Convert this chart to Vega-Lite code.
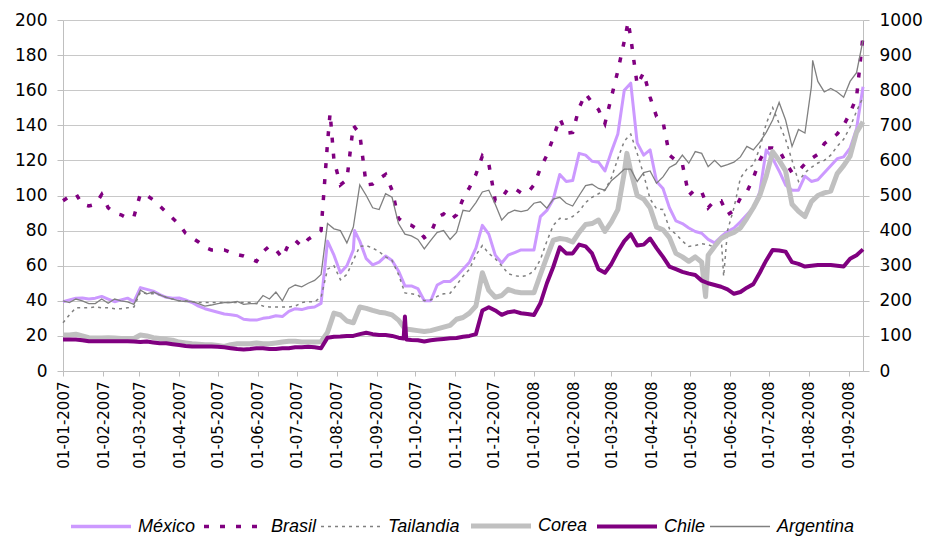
{
"$schema": "https://vega.github.io/schema/vega-lite/v6.json",
"width": 800, "height": 351,
"autosize": {"type": "none"},
"padding": {"left": 63, "top": 20, "right": 64, "bottom": 167},
"background": "white",
"config": {"view": {"stroke": null}, "font": "DejaVu Sans"},
"data": {"values": [
{"d":"2007-01-01","México":39.5,"Brasil":97,"Tailandia":27.5,"Corea":20.5,"Chile":18,"Argentina":200},
{"d":"2007-01-06","México":40.5,"Brasil":99.5,"Tailandia":32,"Corea":20.5,"Chile":18,"Argentina":195},
{"d":"2007-01-11","México":41.5,"Brasil":101,"Tailandia":36,"Corea":21,"Chile":18,"Argentina":205},
{"d":"2007-01-16","México":41.6,"Brasil":95,"Tailandia":36,"Corea":20,"Chile":17.5,"Argentina":200},
{"d":"2007-01-21","México":41,"Brasil":94,"Tailandia":36,"Corea":19,"Chile":17,"Argentina":192},
{"d":"2007-01-26","México":41.5,"Brasil":95,"Tailandia":36.5,"Corea":18.8,"Chile":17,"Argentina":192},
{"d":"2007-01-31","México":42.5,"Brasil":100.5,"Tailandia":36,"Corea":18.8,"Chile":17,"Argentina":205},
{"d":"2007-02-05","México":41,"Brasil":93,"Tailandia":36,"Corea":19,"Chile":17,"Argentina":193},
{"d":"2007-02-10","México":39.5,"Brasil":90,"Tailandia":35.5,"Corea":18.8,"Chile":17,"Argentina":205},
{"d":"2007-02-15","México":40.5,"Brasil":89,"Tailandia":35.5,"Corea":18.5,"Chile":17,"Argentina":200},
{"d":"2007-02-20","México":41.5,"Brasil":87,"Tailandia":36,"Corea":18.5,"Chile":17,"Argentina":197},
{"d":"2007-02-25","México":39.5,"Brasil":88,"Tailandia":36.5,"Corea":18.5,"Chile":16.8,"Argentina":190},
{"d":"2007-03-02","México":47.5,"Brasil":101,"Tailandia":45,"Corea":20.5,"Chile":16.5,"Argentina":230},
{"d":"2007-03-07","México":46.5,"Brasil":100,"Tailandia":44,"Corea":20,"Chile":16.8,"Argentina":220},
{"d":"2007-03-12","México":45.5,"Brasil":97.5,"Tailandia":44,"Corea":19,"Chile":16.3,"Argentina":225},
{"d":"2007-03-17","México":43.5,"Brasil":94,"Tailandia":43.5,"Corea":18.5,"Chile":15.8,"Argentina":217},
{"d":"2007-03-22","México":42,"Brasil":90.5,"Tailandia":42,"Corea":18,"Chile":15.8,"Argentina":210},
{"d":"2007-03-27","México":41.5,"Brasil":87,"Tailandia":41,"Corea":17.5,"Chile":15.3,"Argentina":205},
{"d":"2007-04-01","México":41.6,"Brasil":83.5,"Tailandia":40,"Corea":16.5,"Chile":14.8,"Argentina":200},
{"d":"2007-04-06","México":40.5,"Brasil":78.5,"Tailandia":40,"Corea":16,"Chile":14.3,"Argentina":198},
{"d":"2007-04-11","México":39,"Brasil":76,"Tailandia":39.5,"Corea":15.5,"Chile":14,"Argentina":198},
{"d":"2007-04-16","México":37,"Brasil":73.5,"Tailandia":39,"Corea":15.3,"Chile":14,"Argentina":192},
{"d":"2007-04-21","México":35.5,"Brasil":70.5,"Tailandia":39,"Corea":15,"Chile":14,"Argentina":185},
{"d":"2007-04-26","México":34.5,"Brasil":69,"Tailandia":39,"Corea":15,"Chile":14,"Argentina":188},
{"d":"2007-05-01","México":33.5,"Brasil":69,"Tailandia":39,"Corea":14.5,"Chile":13.8,"Argentina":192},
{"d":"2007-05-06","México":32.5,"Brasil":69,"Tailandia":39,"Corea":14,"Chile":13.5,"Argentina":195},
{"d":"2007-05-11","México":32,"Brasil":67.5,"Tailandia":39,"Corea":15,"Chile":13,"Argentina":195},
{"d":"2007-05-16","México":31.5,"Brasil":66.3,"Tailandia":39,"Corea":15.5,"Chile":12.5,"Argentina":198},
{"d":"2007-05-21","México":29.5,"Brasil":65.5,"Tailandia":39,"Corea":15.5,"Chile":12.3,"Argentina":190},
{"d":"2007-05-26","México":29,"Brasil":64,"Tailandia":39,"Corea":15.5,"Chile":12.5,"Argentina":192},
{"d":"2007-05-31","México":29,"Brasil":62.5,"Tailandia":38.5,"Corea":16,"Chile":13,"Argentina":192},
{"d":"2007-06-05","México":30,"Brasil":68,"Tailandia":37,"Corea":15.5,"Chile":13,"Argentina":215},
{"d":"2007-06-10","México":30.5,"Brasil":71.2,"Tailandia":36.5,"Corea":15.5,"Chile":12.5,"Argentina":205},
{"d":"2007-06-15","México":31.5,"Brasil":69,"Tailandia":36.5,"Corea":16,"Chile":12.5,"Argentina":225},
{"d":"2007-06-20","México":31,"Brasil":64.5,"Tailandia":36.5,"Corea":16.5,"Chile":13,"Argentina":200},
{"d":"2007-06-25","México":34,"Brasil":72.5,"Tailandia":36.5,"Corea":17,"Chile":13,"Argentina":235},
{"d":"2007-06-30","México":35.5,"Brasil":74.5,"Tailandia":37,"Corea":17,"Chile":13.5,"Argentina":245},
{"d":"2007-07-05","México":35,"Brasil":71,"Tailandia":39,"Corea":16.5,"Chile":13.5,"Argentina":240},
{"d":"2007-07-10","México":36,"Brasil":75,"Tailandia":39.5,"Corea":16.5,"Chile":13.8,"Argentina":250},
{"d":"2007-07-15","México":36.5,"Brasil":77.5,"Tailandia":39.5,"Corea":16.5,"Chile":13.5,"Argentina":258},
{"d":"2007-07-20","México":38.5,"Brasil":80,"Tailandia":42,"Corea":16.7,"Chile":13,"Argentina":275},
{"d":"2007-07-25","México":74,"Brasil":130,"Tailandia":58,"Corea":22,"Chile":19,"Argentina":420},
{"d":"2007-07-27","Brasil":147},
{"d":"2007-07-30","México":66,"Brasil":120,"Tailandia":60,"Corea":33,"Chile":19.5,"Argentina":405},
{"d":"2007-08-04","México":56,"Brasil":106,"Tailandia":52,"Corea":31.9,"Chile":19.6,"Argentina":400},
{"d":"2007-08-09","México":60,"Brasil":109,"Tailandia":55,"Corea":28.5,"Chile":20,"Argentina":365},
{"d":"2007-08-14","México":69,"Brasil":140,"Tailandia":63,"Corea":27.5,"Chile":20,"Argentina":410},
{"d":"2007-08-15","México":80},
{"d":"2007-08-19","México":74,"Brasil":135,"Tailandia":71,"Corea":36.5,"Chile":21,"Argentina":530},
{"d":"2007-08-24","México":64,"Brasil":106,"Tailandia":71.5,"Corea":35.7,"Chile":21.8,"Argentina":500},
{"d":"2007-08-29","México":60.5,"Brasil":106.5,"Tailandia":70,"Corea":34.5,"Chile":21,"Argentina":465},
{"d":"2007-09-03","México":62,"Brasil":109.5,"Tailandia":68,"Corea":33.5,"Chile":20.5,"Argentina":460},
{"d":"2007-09-08","México":65.5,"Brasil":112,"Tailandia":65,"Corea":33,"Chile":20.5,"Argentina":505},
{"d":"2007-09-13","México":63,"Brasil":103,"Tailandia":63,"Corea":32,"Chile":20,"Argentina":495},
{"d":"2007-09-18","México":57,"Brasil":87,"Tailandia":55,"Corea":29,"Chile":19,"Argentina":420},
{"d":"2007-09-22","Chile":18.5},
{"d":"2007-09-23","México":48.5,"Brasil":84,"Tailandia":44.5,"Corea":24,"Chile":31,"Argentina":390},
{"d":"2007-09-24","Chile":18},
{"d":"2007-09-28","México":48.5,"Brasil":83,"Tailandia":44,"Corea":23.5,"Chile":17.7,"Argentina":385},
{"d":"2007-10-03","México":47,"Brasil":80.5,"Tailandia":43.3,"Corea":23,"Chile":17.5,"Argentina":375},
{"d":"2007-10-08","México":40,"Brasil":76,"Tailandia":40,"Corea":22.5,"Chile":16.8,"Argentina":348},
{"d":"2007-10-13","México":40,"Brasil":78.5,"Tailandia":40.5,"Corea":23,"Chile":17.5,"Argentina":372},
{"d":"2007-10-18","México":49,"Brasil":87.5,"Tailandia":42.5,"Corea":24,"Chile":18,"Argentina":395},
{"d":"2007-10-23","México":51,"Brasil":89.5,"Tailandia":44,"Corea":25,"Chile":18.3,"Argentina":400},
{"d":"2007-10-28","México":51,"Brasil":86,"Tailandia":44.3,"Corea":26,"Chile":18.6,"Argentina":375},
{"d":"2007-11-02","México":54,"Brasil":89,"Tailandia":49,"Corea":29.5,"Chile":18.8,"Argentina":395},
{"d":"2007-11-07","México":58,"Brasil":98,"Tailandia":54,"Corea":30.5,"Chile":19.5,"Argentina":458},
{"d":"2007-11-12","México":62,"Brasil":104.5,"Tailandia":58,"Corea":33,"Chile":20,"Argentina":455},
{"d":"2007-11-17","México":70,"Brasil":112,"Tailandia":66,"Corea":37,"Chile":21,"Argentina":480},
{"d":"2007-11-22","México":83,"Brasil":122.5,"Tailandia":71.5,"Corea":56,"Chile":34.5,"Argentina":510},
{"d":"2007-11-27","México":78,"Brasil":118,"Tailandia":67,"Corea":46,"Chile":36.3,"Argentina":515},
{"d":"2007-12-02","México":66,"Brasil":97,"Tailandia":64,"Corea":42,"Chile":34.5,"Argentina":475},
{"d":"2007-12-07","México":61.5,"Brasil":98.5,"Tailandia":60,"Corea":43,"Chile":32,"Argentina":430},
{"d":"2007-12-12","México":66,"Brasil":104,"Tailandia":55.5,"Corea":46.5,"Chile":33.5,"Argentina":450},
{"d":"2007-12-17","México":67.5,"Brasil":104,"Tailandia":54.3,"Corea":45.2,"Chile":34,"Argentina":458},
{"d":"2007-12-22","México":69,"Brasil":101.5,"Tailandia":53.8,"Corea":44.6,"Chile":32.9,"Argentina":454},
{"d":"2007-12-27","México":69,"Brasil":101.5,"Tailandia":54.5,"Corea":44.6,"Chile":32.5,"Argentina":458},
{"d":"2008-01-01","México":69,"Brasil":106,"Tailandia":57,"Corea":44.6,"Chile":31.9,"Argentina":478},
{"d":"2008-01-06","México":88,"Brasil":115.5,"Tailandia":63.5,"Corea":55,"Chile":38.6,"Argentina":482},
{"d":"2008-01-11","México":91.5,"Brasil":123,"Tailandia":74,"Corea":65,"Chile":50,"Argentina":464},
{"d":"2008-01-16","México":98,"Brasil":133,"Tailandia":83,"Corea":74.5,"Chile":59.4,"Argentina":490},
{"d":"2008-01-21","México":112,"Brasil":144,"Tailandia":87,"Corea":75.5,"Chile":70.5,"Argentina":495},
{"d":"2008-01-26","México":108,"Brasil":135.5,"Tailandia":86.5,"Corea":75,"Chile":67,"Argentina":478},
{"d":"2008-01-31","México":108.5,"Brasil":136,"Tailandia":88,"Corea":73.5,"Chile":67,"Argentina":470},
{"d":"2008-02-05","México":124,"Brasil":150,"Tailandia":91,"Corea":79,"Chile":72,"Argentina":500},
{"d":"2008-02-10","México":123,"Brasil":158,"Tailandia":96,"Corea":83.5,"Chile":71,"Argentina":528},
{"d":"2008-02-15","México":119.5,"Brasil":153,"Tailandia":99,"Corea":84,"Chile":67,"Argentina":532},
{"d":"2008-02-20","México":119,"Brasil":149,"Tailandia":101,"Corea":86,"Chile":58,"Argentina":520},
{"d":"2008-02-25","México":114,"Brasil":141,"Tailandia":103,"Corea":79.5,"Chile":56,"Argentina":515},
{"d":"2008-03-01","México":125,"Brasil":156,"Tailandia":110,"Corea":85,"Chile":61,"Argentina":542},
{"d":"2008-03-06","México":135,"Brasil":171,"Tailandia":121,"Corea":92,"Chile":68,"Argentina":558},
{"d":"2008-03-11","México":160,"Brasil":188,"Tailandia":131,"Corea":113,"Chile":74,"Argentina":575},
{"d":"2008-03-13","Corea":124},
{"d":"2008-03-14","Brasil":199},
{"d":"2008-03-16","México":164,"Brasil":190,"Tailandia":135,"Corea":114,"Chile":78,"Argentina":575},
{"d":"2008-03-21","México":130,"Brasil":163,"Tailandia":124,"Corea":100,"Chile":71.5,"Argentina":540},
{"d":"2008-03-26","México":123,"Brasil":170,"Tailandia":112,"Corea":98,"Chile":72,"Argentina":565},
{"d":"2008-03-31","México":126,"Brasil":156,"Tailandia":98,"Corea":93,"Chile":75.5,"Argentina":570},
{"d":"2008-04-05","México":108,"Brasil":145,"Tailandia":92.5,"Corea":82,"Chile":70,"Argentina":535},
{"d":"2008-04-10","México":104,"Brasil":142,"Tailandia":92,"Corea":80.5,"Chile":65,"Argentina":553},
{"d":"2008-04-15","México":93,"Brasil":123,"Tailandia":81,"Corea":76,"Chile":59.5,"Argentina":580},
{"d":"2008-04-20","México":85.5,"Brasil":120,"Tailandia":78,"Corea":67,"Chile":58,"Argentina":590},
{"d":"2008-04-25","México":84,"Brasil":118,"Tailandia":74,"Corea":65,"Chile":56.5,"Argentina":615},
{"d":"2008-04-30","México":81.5,"Brasil":100,"Tailandia":71,"Corea":62.5,"Chile":55.5,"Argentina":592},
{"d":"2008-05-05","México":79.5,"Brasil":103.5,"Tailandia":71.5,"Corea":65,"Chile":54.7,"Argentina":625},
{"d":"2008-05-10","México":78.5,"Brasil":102,"Tailandia":72.5,"Corea":62,"Chile":51.5,"Argentina":620},
{"d":"2008-05-13","Corea":42.4},
{"d":"2008-05-15","México":75,"Brasil":93,"Tailandia":72,"Corea":66,"Chile":50,"Argentina":582},
{"d":"2008-05-20","México":73,"Brasil":97,"Tailandia":70.5,"Corea":71,"Chile":49,"Argentina":600},
{"d":"2008-05-25","México":76.5,"Brasil":97,"Tailandia":77,"Corea":75.5,"Chile":48,"Argentina":582},
{"d":"2008-05-27","Tailandia":54},
{"d":"2008-05-30","México":79.5,"Brasil":89,"Tailandia":80,"Corea":77.5,"Chile":46.5,"Argentina":588},
{"d":"2008-06-04","México":81.5,"Brasil":91.5,"Tailandia":93,"Corea":79,"Chile":44,"Argentina":595},
{"d":"2008-06-09","México":85,"Brasil":98.5,"Tailandia":110,"Corea":81.5,"Chile":45,"Argentina":610},
{"d":"2008-06-14","México":89,"Brasil":102,"Tailandia":115,"Corea":87,"Chile":47.5,"Argentina":640},
{"d":"2008-06-19","México":93,"Brasil":110,"Tailandia":117.5,"Corea":93,"Chile":49.5,"Argentina":630},
{"d":"2008-06-24","México":102,"Brasil":120,"Tailandia":127,"Corea":100,"Chile":56,"Argentina":652},
{"d":"2008-06-29","México":126,"Brasil":127,"Tailandia":141,"Corea":111,"Chile":63,"Argentina":680},
{"d":"2008-07-04","México":121,"Brasil":127,"Tailandia":150,"Corea":125,"Chile":69,"Argentina":715},
{"d":"2008-07-09","México":114,"Brasil":126,"Tailandia":141,"Corea":120,"Chile":68.7,"Argentina":765},
{"d":"2008-07-14","México":106,"Brasil":119,"Tailandia":132,"Corea":114,"Chile":68,"Argentina":715},
{"d":"2008-07-19","México":103,"Brasil":113,"Tailandia":120,"Corea":95,"Chile":62,"Argentina":640},
{"d":"2008-07-24","México":103,"Brasil":114,"Tailandia":108,"Corea":91,"Chile":61,"Argentina":688},
{"d":"2008-07-29","México":111,"Brasil":118,"Tailandia":113,"Corea":88,"Chile":59.5,"Argentina":678},
{"d":"2008-08-03","México":108,"Brasil":121,"Tailandia":116,"Corea":96.5,"Chile":60,"Argentina":810},
{"d":"2008-08-04","Argentina":885},
{"d":"2008-08-08","México":109,"Brasil":123.5,"Tailandia":118.5,"Corea":100,"Chile":60.4,"Argentina":825},
{"d":"2008-08-13","México":113,"Brasil":129.5,"Tailandia":120,"Corea":101.5,"Chile":60.4,"Argentina":795},
{"d":"2008-08-18","México":117,"Brasil":132.5,"Tailandia":123,"Corea":102.5,"Chile":60.4,"Argentina":805},
{"d":"2008-08-23","México":121,"Brasil":135,"Tailandia":128,"Corea":112.5,"Chile":60,"Argentina":795},
{"d":"2008-08-28","México":122,"Brasil":140,"Tailandia":132,"Corea":117,"Chile":59.5,"Argentina":780},
{"d":"2008-09-02","México":127,"Brasil":147,"Tailandia":139,"Corea":122.5,"Chile":64,"Argentina":825},
{"d":"2008-09-07","México":138,"Brasil":156,"Tailandia":148,"Corea":136,"Chile":66,"Argentina":850},
{"d":"2008-09-12","México":162,"Brasil":191,"Tailandia":156,"Corea":142,"Chile":69.3,"Argentina":943}
]},
"transform": [
  {"fold": ["México","Brasil","Tailandia","Corea","Chile","Argentina"], "as": ["s","v"]},
  {"filter": "isValid(datum.v)"}
],
"encoding": {
  "x": {"field": "d", "type": "temporal",
        "scale": {"type": "utc", "domain": [{"year":2007,"month":1,"date":1,"utc":true},{"year":2008,"month":9,"date":12,"utc":true}]},
        "axis": {"format": "%d-%m-%Y", "tickCount": {"interval": "month", "step": 1}, "labelAngle": -90,
                 "labelFont": "DejaVu Sans", "labelFontSize": 15, "labelColor": "black", "labelPadding": 5,
                 "tickSize": 5, "tickColor": "#BFBFBF", "domainColor": "#BFBFBF", "grid": false, "title": null,
                 "labelOverlap": false, "labelFlush": false, "labelBound": false}},
  "color": {"field": "s", "type": "nominal",
            "scale": {"domain": ["México","Brasil","Tailandia","Corea","Chile","Argentina"],
                      "range": ["#CC99FF","#800080","#808080","#C0C0C0","#800080","#808080"]},
            "legend": {"orient": "none", "legendX": 29, "legendY": 497, "direction": "horizontal", "columns": 6,
                       "title": null, "symbolType": "stroke", "symbolSize": 3600, "labelFont": "Liberation Sans",
                       "labelFontStyle": "italic", "labelFontSize": 18, "labelColor": "black", "labelOffset": 28,
                       "columnPadding": 1, "padding": 0, "labelLimit": 0, "symbolStrokeWidth": 3,
                       "encode": {"symbols": {"update": {
                         "strokeWidth": {"signal": "datum.value === 'Corea' ? 5 : datum.value === 'Chile' ? 4 : (datum.value === 'México' || datum.value === 'Brasil') ? 3.5 : 1.3"},
                         "strokeDash": {"signal": "datum.value === 'Brasil' ? [5, 11] : datum.value === 'Tailandia' ? [3, 4] : [1, 0]"}
                       }}}}}
},
"layer": [
  {"layer": [
     {"transform": [{"filter": "datum.s === 'México'"}], "mark": {"type": "line", "strokeWidth": 3, "strokeJoin": "round"}},
     {"transform": [{"filter": "datum.s === 'Brasil'"}], "mark": {"type": "line", "strokeWidth": 3.5, "strokeDash": [5, 11]}},
     {"transform": [{"filter": "datum.s === 'Tailandia'"}], "mark": {"type": "line", "strokeWidth": 1.5, "strokeDash": [3, 4]}},
     {"transform": [{"filter": "datum.s === 'Corea'"}], "mark": {"type": "line", "strokeWidth": 5, "strokeJoin": "round"}},
     {"transform": [{"filter": "datum.s === 'Chile'"}], "mark": {"type": "line", "strokeWidth": 4, "strokeJoin": "round"}}
   ],
   "encoding": {"y": {"field": "v", "type": "quantitative", "scale": {"domain": [0, 200], "nice": false},
     "axis": {"orient": "left", "values": [0,20,40,60,80,100,120,140,160,180,200], "format": "d",
              "labelFont": "DejaVu Sans", "labelFontSize": 17, "labelColor": "black", "labelPadding": 10,
              "tickSize": 6, "tickColor": "#BFBFBF", "domainColor": "#BFBFBF", "grid": true, "gridColor": "#C8C8C8",
              "title": null}}}
  },
  {"transform": [{"filter": "datum.s === 'Argentina'"}],
   "mark": {"type": "line", "strokeWidth": 1.3},
   "encoding": {"y": {"field": "v", "type": "quantitative", "scale": {"domain": [0, 1000], "nice": false},
     "axis": {"orient": "right", "values": [0,100,200,300,400,500,600,700,800,900,1000], "format": "d",
              "labelFont": "DejaVu Sans", "labelFontSize": 17, "labelColor": "black", "labelPadding": 10,
              "tickSize": 6, "tickColor": "#BFBFBF", "domainColor": "#BFBFBF", "grid": false, "title": null}}}
  }
],
"resolve": {"scale": {"y": "independent"}}
}
